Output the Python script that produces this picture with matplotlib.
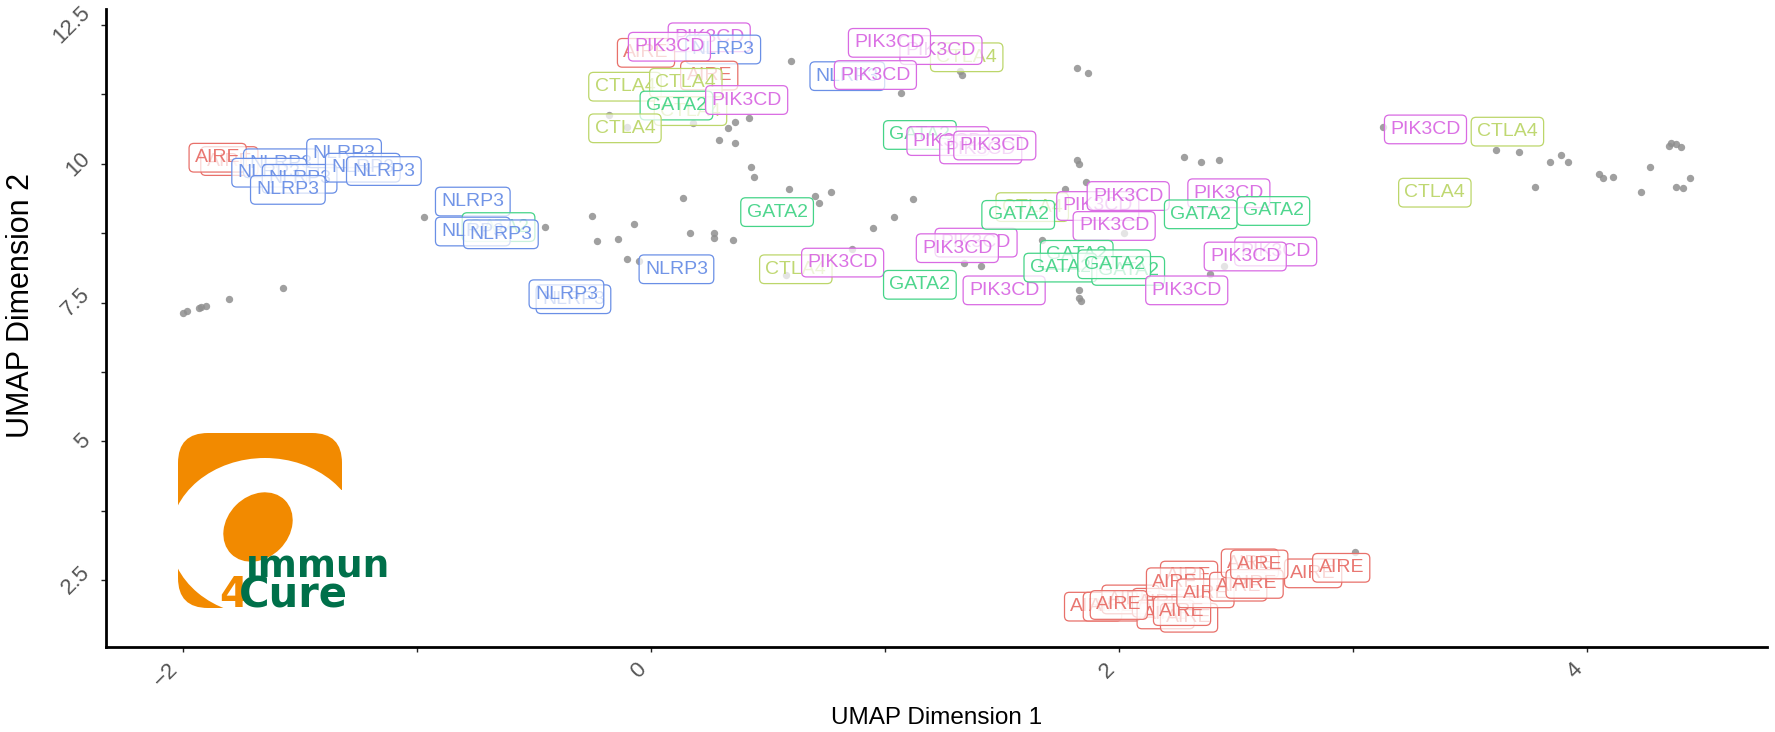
import matplotlib
matplotlib.use("Agg")
import matplotlib.pyplot as plt
from matplotlib.patches import FancyBboxPatch, Ellipse, Rectangle
from matplotlib.ticker import MultipleLocator
import numpy as np

# ---------------- data ----------------
pt_x = [-2.00, -1.98, -1.93, -1.92, -1.90, -1.80, -1.57,
        -0.97, -0.45, -0.25, -0.23,
        0.60, 1.33, 1.32, 1.82, 1.87, 1.07,
        -0.18, -0.10, 0.18, 0.42, 0.36, 0.33, 0.29, 0.36, 0.43, 0.44,
        0.14, 0.59, 0.70, 0.72, 0.77,
        -0.07, -0.14, 0.17, 0.27, 0.27, 0.35, -0.10, -0.05,
        1.12, 1.04, 0.95, 0.86, 0.58,
        1.82, 1.83, 2.28, 2.35, 2.43,
        1.86, 1.77, 1.67, 1.41, 1.34,
        1.83, 1.83, 1.84, 2.02, 2.39, 2.45,
        3.13, 3.61, 3.71, 3.89, 3.84, 3.92, 3.78,
        4.05, 4.07, 4.11, 4.27, 4.23,
        4.35, 4.36, 4.38, 4.40, 4.38, 4.41, 4.44,
        3.01]
pt_y = [7.32, 7.35, 7.41, 7.42, 7.44, 7.56, 7.77,
        9.05, 8.87, 9.06, 8.61,
        11.85, 11.60, 11.68, 11.73, 11.63, 11.28,
        10.88, 10.67, 10.73, 10.82, 10.76, 10.65, 10.43, 10.37, 9.95, 9.77,
        9.39, 9.55, 9.42, 9.29, 9.50,
        8.91, 8.64, 8.75, 8.75, 8.67, 8.63, 8.28, 8.24,
        9.37, 9.04, 8.84, 8.46, 7.99,
        10.07, 9.99, 10.12, 10.04, 10.07,
        9.67, 9.54, 8.63, 8.16, 8.22,
        7.73, 7.58, 7.53, 8.76, 8.01, 8.15,
        10.67, 10.25, 10.22, 10.16, 10.03, 10.03, 9.59,
        9.82, 9.75, 9.77, 9.95, 9.49,
        10.33, 10.37, 10.35, 10.31, 9.59, 9.56, 9.74,
        3.00]

lab_gene = ["AIRE", "AIRE",
            "NLRP3", "NLRP3", "NLRP3", "NLRP3", "NLRP3", "NLRP3", "NLRP3",
            "NLRP3", "GATA2", "NLRP3", "NLRP3", "NLRP3", "NLRP3",
            "PIK3CD", "NLRP3", "AIRE", "PIK3CD", "AIRE", "CTLA4", "CTLA4",
            "CTLA4", "GATA2", "PIK3CD", "CTLA4",
            "CTLA4", "PIK3CD", "PIK3CD", "NLRP3", "PIK3CD",
            "GATA2", "PIK3CD", "PIK3CD", "PIK3CD",
            "GATA2", "NLRP3", "CTLA4", "PIK3CD", "GATA2",
            "PIK3CD", "PIK3CD", "PIK3CD",
            "CTLA4", "GATA2", "PIK3CD", "PIK3CD", "PIK3CD",
            "GATA2", "GATA2", "GATA2", "GATA2", "PIK3CD",
            "PIK3CD", "GATA2", "PIK3CD", "PIK3CD", "GATA2",
            "PIK3CD", "CTLA4", "CTLA4",
            "AIRE", "AIRE", "AIRE", "AIRE", "AIRE", "AIRE", "AIRE", "AIRE",
            "AIRE", "AIRE", "AIRE", "AIRE", "AIRE", "AIRE", "AIRE", "AIRE", "AIRE"]
lab_x = [-1.80, -1.85,
         -1.58, -1.31, -1.63, -1.50, -1.55, -1.23, -1.14,
         -0.76, -0.65, -0.76, -0.64, -0.33, -0.36,
         0.25, 0.31, -0.02, 0.08, 0.25, -0.11, 0.15,
         0.17, 0.11, 0.41, -0.11,
         1.35, 1.24, 1.02, 0.84, 0.96,
         1.15, 1.27, 1.41, 1.47,
         0.54, 0.11, 0.62, 0.82, 1.15,
         1.39, 1.31, 1.51,
         1.63, 1.57, 1.91, 2.04, 1.98,
         1.82, 1.75, 2.04, 1.98, 2.29,
         2.47, 2.35, 2.67, 2.54, 2.66,
         3.31, 3.66, 3.35,
         1.89, 1.97, 2.05, 2.18, 2.20, 2.30, 2.27, 2.00,
         2.30, 2.24, 2.37, 2.51, 2.56, 2.58, 2.83, 2.60, 2.95]
lab_y = [10.05, 10.11,
         10.01, 10.19, 9.84, 9.73, 9.53, 9.93, 9.87,
         9.32, 8.86, 8.78, 8.73, 7.56, 7.65,
         12.28, 12.06, 12.00, 12.11, 11.59, 11.39, 11.46,
         10.95, 11.05, 11.15, 10.64,
         11.92, 12.05, 12.18, 11.58, 11.60,
         10.52, 10.41, 10.26, 10.33,
         9.13, 8.10, 8.10, 8.22, 7.82,
         8.58, 8.48, 7.72,
         9.22, 9.08, 9.24, 9.42, 8.88,
         8.36, 8.13, 8.07, 8.19, 7.72,
         9.47, 9.09, 8.42, 8.33, 9.15,
         10.62, 10.58, 9.48,
         2.02, 2.02, 2.15, 2.09, 1.88, 1.82, 1.94, 2.05,
         2.58, 2.46, 2.26, 2.38, 2.80, 2.43, 2.62, 2.78, 2.72]

gene_colors = {"AIRE": "#E8706A", "CTLA4": "#BCD66A", "GATA2": "#45D488",
               "NLRP3": "#6A8FE6", "PIK3CD": "#D96AE3"}

x_ticks = [-2, 0, 2, 4]
x_tick_labels = ["\u22122", "0", "2", "4"]
y_ticks = [2.5, 5, 7.5, 10, 12.5]
y_tick_labels = ["2.5", "5", "7.5", "10", "12.5"]

# ---------------- figure ----------------
fig = plt.figure(figsize=(17.75, 7.32), dpi=100)
ax = fig.add_axes([106 / 1775, 1 - 647 / 732, 1661 / 1775, 638 / 732])

ax.scatter(pt_x, pt_y, s=28, color="#8f8f8f", alpha=0.85, linewidths=0, zorder=2)

for g, x, y in zip(lab_gene, lab_x, lab_y):
    c = gene_colors[g]
    ax.text(x, y, g, color=c, fontsize=14, family="Liberation Sans",
            ha="center", va="center", zorder=3, alpha=0.95,
            bbox=dict(boxstyle="round,pad=0.3,rounding_size=0.25",
                      facecolor=(1, 1, 1, 0.72), edgecolor=c, linewidth=0.9))

ax.set_xlim(-2.327, 4.769)
ax.set_ylim(1.293, 12.79)
ax.set_xticks(x_ticks)
ax.set_xticklabels(x_tick_labels)
ax.set_yticks(y_ticks)
ax.set_yticklabels(y_tick_labels)
ax.xaxis.set_minor_locator(MultipleLocator(1))
ax.yaxis.set_minor_locator(MultipleLocator(1.25))

for s in ["top", "right"]:
    ax.spines[s].set_visible(False)
for s in ["left", "bottom"]:
    ax.spines[s].set_linewidth(2.0)
    ax.spines[s].set_color("black")

ax.tick_params(which="both", direction="out", length=3.5, width=1.0, color="#222222")
ax.tick_params(axis="both", which="major", labelsize=16, labelcolor="#555555", pad=5)
for lab in ax.get_xticklabels():
    lab.set_rotation(45)
    lab.set_ha("right")
    lab.set_family("Liberation Sans")
for lab in ax.get_yticklabels():
    lab.set_rotation(45)
    lab.set_ha("right")
    lab.set_va("center")
    lab.set_family("Liberation Sans")

ax.set_xlabel("UMAP Dimension 1", fontsize=17.5, family="Liberation Sans", va="center")
ax.xaxis.set_label_coords(0.5, -0.111)
ax.set_ylabel("UMAP Dimension 2", fontsize=22, family="Liberation Sans", va="center")
ax.yaxis.set_label_coords(-0.051, 0.536)

# ---------------- logo (pixel coordinates, y down) ----------------
lax = fig.add_axes([150 / 1775, 1 - 625 / 732, 260 / 1775, 205 / 732])
lax.set_xlim(150, 410)
lax.set_ylim(625, 420)
lax.axis("off")
orange = "#F28A00"
green = "#00704A"
lax.add_patch(FancyBboxPatch((178, 433), 164, 175,
                             boxstyle="round,pad=0,rounding_size=30",
                             facecolor=orange, edgecolor="none"))
lax.add_patch(Ellipse((265, 537), 190, 158, facecolor="white", edgecolor="none"))
lax.add_patch(Rectangle((250, 490), 110, 130, facecolor="white", edgecolor="none"))
lax.add_patch(Ellipse((258, 527), 76, 62, angle=-45, facecolor=orange, edgecolor="none"))
lax.text(246, 577, "\u0131mmun", color=green, fontsize=27, fontweight="bold",
         family="DejaVu Sans", ha="left", va="baseline")
lax.text(219, 607, "4", color=orange, fontsize=30, fontweight="bold",
         family="DejaVu Sans", ha="left", va="baseline")
lax.text(239, 607, "Cure", color=green, fontsize=30, fontweight="bold",
         family="DejaVu Sans", ha="left", va="baseline")

fig.savefig("out.png", dpi=100)
